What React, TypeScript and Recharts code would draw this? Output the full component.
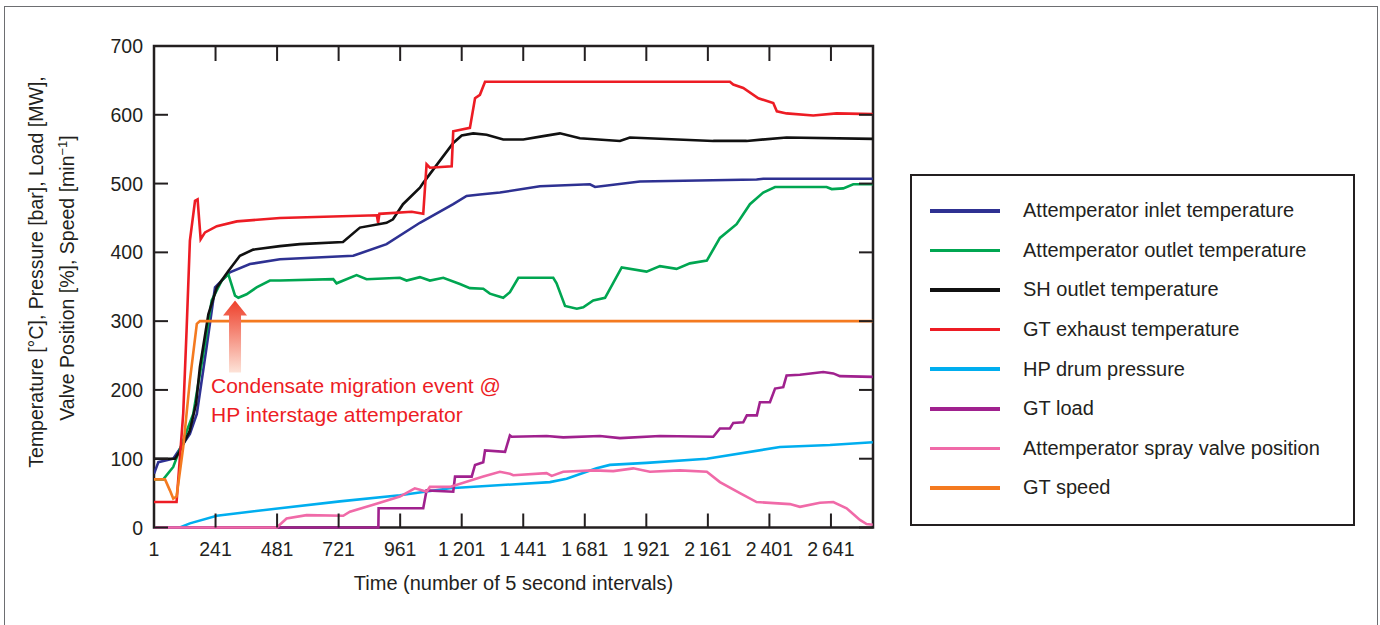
import React from "react"
import {
  LineChart,
  Line,
  XAxis,
  YAxis,
  Label,
  ReferenceArea,
  ReferenceDot,
} from "recharts"

// time index (5 s intervals) vs value, one list per signal
const attempInletTemp: [number, number][] = [
  [1, 78], [18, 95], [76, 100], [141, 136], [168, 165], [206, 262], [239, 349],
  [297, 371], [375, 383], [492, 390], [778, 395], [908, 412], [1038, 443],
  [1168, 470], [1220, 482], [1272, 484], [1350, 487], [1506, 496], [1701, 499],
  [1721, 495], [1896, 503], [2351, 506], [2377, 507], [2804, 507],
]

const attempOutletTemp: [number, number][] = [
  [1, 70], [37, 70], [76, 88], [115, 127], [154, 165], [193, 252], [226, 330],
  [265, 359], [291, 368], [317, 337], [330, 334], [362, 339], [401, 349],
  [453, 359], [492, 359], [700, 361], [713, 355], [791, 367], [830, 361],
  [960, 363], [986, 359], [1038, 364], [1077, 359], [1129, 363], [1194, 354],
  [1233, 348], [1285, 347], [1311, 340], [1337, 337], [1363, 334], [1389, 342],
  [1422, 363], [1558, 363], [1571, 355], [1604, 322], [1650, 318], [1675, 320],
  [1714, 330], [1760, 334], [1825, 378], [1922, 372], [1974, 380], [2039, 376],
  [2091, 384], [2157, 388], [2208, 421], [2273, 441], [2325, 470], [2377, 487],
  [2423, 495], [2624, 495], [2644, 492], [2689, 493], [2728, 499], [2804, 499],
]

const shOutletTemp: [number, number][] = [
  [1, 100], [83, 100], [100, 110], [140, 140], [165, 180], [180, 233],
  [213, 310], [246, 349], [291, 373], [336, 395], [388, 404], [492, 409],
  [570, 412], [738, 415], [804, 436], [908, 443], [933, 448], [972, 470],
  [1038, 494], [1051, 501], [1168, 559], [1201, 570], [1246, 573], [1298, 571],
  [1363, 564], [1441, 564], [1519, 569], [1584, 573], [1662, 566], [1818, 562],
  [1857, 567], [2182, 562], [2312, 562], [2468, 567], [2804, 565],
]

const gtExhaustTemp: [number, number][] = [
  [1, 37], [89, 37], [115, 166], [128, 286], [141, 417], [161, 475], [171, 477],
  [183, 419], [200, 429], [246, 438], [324, 445], [492, 450], [870, 454],
  [875, 443], [880, 456], [1006, 459], [1051, 456], [1064, 528], [1077, 523],
  [1162, 525], [1168, 576], [1233, 581], [1253, 624], [1272, 629], [1292, 648],
  [2247, 648], [2260, 644], [2299, 639], [2358, 624], [2416, 617], [2430, 605],
  [2468, 602], [2572, 599], [2663, 602], [2804, 601],
]

const hpDrumPressure: [number, number][] = [
  [1, 0], [102, 0], [141, 6], [246, 17], [375, 23], [492, 28], [726, 38],
  [960, 47], [1155, 57], [1545, 66], [1610, 71], [1727, 86], [1779, 91],
  [1922, 94], [2157, 100], [2442, 117], [2637, 120], [2804, 124],
]

const gtLoad: [number, number][] = [
  [1, 0], [876, 0], [877, 28], [1051, 28], [1064, 54], [1168, 52], [1175, 74],
  [1240, 74], [1253, 91], [1285, 95], [1292, 112], [1370, 110], [1389, 134],
  [1396, 132], [1532, 133], [1597, 131], [1740, 133], [1818, 130], [1974, 133],
  [2182, 132], [2208, 144], [2247, 144], [2260, 152], [2299, 153], [2313, 163],
  [2352, 163], [2364, 182], [2403, 182], [2423, 202], [2455, 204], [2468, 221],
  [2520, 222], [2611, 226], [2650, 224], [2676, 220], [2804, 219],
]

const sprayValvePos: [number, number][] = [
  [1, 0], [480, 0], [518, 13], [596, 18], [739, 17], [765, 23], [856, 33],
  [960, 45], [1018, 57], [1038, 55], [1064, 52], [1077, 59], [1155, 59],
  [1285, 74], [1350, 81], [1389, 78], [1402, 76], [1532, 79], [1552, 75],
  [1597, 81], [1714, 83], [1792, 82], [1870, 86], [1935, 81], [2052, 83],
  [2157, 81], [2208, 66], [2286, 50], [2351, 37], [2481, 34], [2520, 30],
  [2598, 36], [2650, 37], [2702, 28], [2754, 11], [2780, 5], [2804, 4],
]

const gtSpeed: [number, number][] = [
  [1, 70], [44, 70], [63, 54], [76, 42], [89, 45], [115, 117], [141, 214],
  [168, 296], [180, 300], [2804, 300],
]

const xTicks = [1, 241, 481, 721, 961, 1201, 1441, 1681, 1921, 2161, 2401, 2641]
const yTicks = [0, 100, 200, 300, 400, 500, 600, 700]

const series = [
  { name: "Attemperator inlet temperature", color: "#2e3192", data: attempInletTemp },
  { name: "Attemperator outlet temperature", color: "#00a651", data: attempOutletTemp },
  { name: "SH outlet temperature", color: "#111111", data: shOutletTemp },
  { name: "GT exhaust temperature", color: "#ed1c24", data: gtExhaustTemp },
  { name: "HP drum pressure", color: "#00aeef", data: hpDrumPressure },
  { name: "GT load", color: "#a0218e", data: gtLoad },
  { name: "Attemperator spray valve position", color: "#f06aa8", data: sprayValvePos },
  { name: "GT speed", color: "#f47a20", data: gtSpeed },
]

const W = 1380
const H = 625
const PLOT = { left: 154, right: 873, top: 46, bottom: 527.5 }
const AXIS = "#231f20"
const FONT = '"Liberation Sans", Arial, Helvetica, sans-serif'
const Y_AXIS_W = 60
const X_AXIS_H = 60

const toPoints = (pairs: [number, number][]) => pairs.map(([t, v]) => ({ t, v }))

const fmtThousands = (n: number) =>
  String(n).replace(/\B(?=(\d{3})+(?!\d))/g, "\u2009")

function XTick({ x, payload }: any) {
  return (
    <g>
      <line x1={x} x2={x} y1={PLOT.bottom} y2={PLOT.bottom - 14} stroke={AXIS} strokeWidth={2} />
      <line x1={x} x2={x} y1={PLOT.top} y2={PLOT.top + 15} stroke={AXIS} strokeWidth={2} />
      <text x={x} y={PLOT.bottom + 28} textAnchor="middle" fontSize={19.5} fill={AXIS} fontFamily={FONT}>
        {fmtThousands(payload.value)}
      </text>
    </g>
  )
}

function YTick({ y, payload }: any) {
  return (
    <g>
      <line x1={PLOT.left} x2={PLOT.left + 14} y1={y} y2={y} stroke={AXIS} strokeWidth={2} />
      <line x1={PLOT.right} x2={PLOT.right - 14} y1={y} y2={y} stroke={AXIS} strokeWidth={2} />
      <text x={PLOT.left - 11} y={y + 7} textAnchor="end" fontSize={19.5} fill={AXIS} fontFamily={FONT}>
        {payload.value}
      </text>
    </g>
  )
}

function YTitle() {
  const cy = 272
  return (
    <g fontFamily={FONT} fontSize={19.5} fill={AXIS}>
      <text x={43} y={cy} textAnchor="middle" transform={`rotate(-90 43 ${cy})`}>
        Temperature [°C], Pressure [bar], Load [MW],
      </text>
      <text x={74} y={cy + 6} textAnchor="middle" transform={`rotate(-90 74 ${cy + 6})`}>
        Valve Position [%], Speed [min
        <tspan dy={-7} fontSize={13}>−1</tspan>
        <tspan dy={7}>]</tspan>
      </text>
    </g>
  )
}

function XTitle() {
  return (
    <text
      x={(PLOT.left + PLOT.right) / 2}
      y={590}
      textAnchor="middle"
      fontSize={20}
      fill={AXIS}
      fontFamily={FONT}
    >
      Time (number of 5 second intervals)
    </text>
  )
}

// upward arrow pointing at the outlet temperature dip, with its caption
function EventMarker({ cx, cy }: any) {
  if (cx == null || cy == null) return null
  const path = `M ${cx} ${cy} L ${cx + 12} ${cy + 15} L ${cx + 6} ${cy + 15} L ${cx + 6} ${cy + 72}
    L ${cx - 6} ${cy + 72} L ${cx - 6} ${cy + 15} L ${cx - 12} ${cy + 15} Z`
  return (
    <g>
      <defs>
        <linearGradient id="arrowFade" x1="0" y1="0" x2="0" y2="1">
          <stop offset="0%" stopColor="#ee3f2a" />
          <stop offset="100%" stopColor="#fde3d8" />
        </linearGradient>
      </defs>
      <path d={path} fill="url(#arrowFade)" />
      <g fill="#ed1c24" fontSize={21} fontFamily={FONT}>
        <text x={cx - 24} y={cy + 92}>Condensate migration event @</text>
        <text x={cx - 24} y={cy + 121}>HP interstage attemperator</text>
      </g>
    </g>
  )
}

function LegendBox() {
  return (
    <div
      style={{
        position: "absolute",
        left: 910,
        top: 174,
        width: 445,
        height: 352,
        boxSizing: "border-box",
        border: `2.5px solid ${AXIS}`,
        background: "#fff",
        paddingTop: 15,
        fontFamily: FONT,
      }}
    >
      {series.map((s) => (
        <div key={s.name} style={{ display: "flex", alignItems: "center", height: 39.6 }}>
          <div style={{ width: 70, height: 3.5, marginLeft: 18, background: s.color }} />
          <span style={{ marginLeft: 23, fontSize: 20, color: AXIS, whiteSpace: "nowrap" }}>
            {s.name}
          </span>
        </div>
      ))}
    </div>
  )
}

export default function App() {
  return (
    <div
      style={{
        position: "absolute",
        left: 0,
        top: 0,
        width: W,
        height: H,
        overflow: "hidden",
        background: "#fff",
      }}
    >
      <div
        style={{
          position: "absolute",
          left: 4,
          top: 6,
          width: 1372,
          height: 700,
          borderLeft: "1.5px solid #6d6e71",
          borderTop: "1.5px solid #6d6e71",
          borderRight: "1.5px solid #6d6e71",
        }}
      />
      <LineChart
        width={W}
        height={H}
        margin={{
          top: PLOT.top,
          right: W - PLOT.right,
          bottom: H - PLOT.bottom - X_AXIS_H,
          left: PLOT.left - Y_AXIS_W,
        }}
        style={{ position: "absolute", left: 0, top: 0 }}
      >
        <XAxis
          dataKey="t"
          type="number"
          domain={[1, 2805]}
          ticks={xTicks}
          allowDataOverflow
          height={X_AXIS_H}
          axisLine={false}
          tickLine={false}
          tickSize={0}
          tick={<XTick />}
          interval={0}
        >
          <Label content={<XTitle />} />
        </XAxis>
        <YAxis
          type="number"
          domain={[0, 700]}
          ticks={yTicks}
          width={Y_AXIS_W}
          axisLine={false}
          tickLine={false}
          tickSize={0}
          tick={<YTick />}
          interval={0}
        >
          <Label content={<YTitle />} />
        </YAxis>
        {series.map((s) => (
          <Line
            key={s.name}
            data={toPoints(s.data)}
            dataKey="v"
            name={s.name}
            type="linear"
            stroke={s.color}
            strokeWidth={2.6}
            dot={false}
            activeDot={false}
            isAnimationActive={false}
          />
        ))}
        <ReferenceArea
          x1={1}
          x2={2805}
          y1={0}
          y2={700}
          fill="none"
          stroke={AXIS}
          strokeWidth={2.5}
          ifOverflow="visible"
        />
        <ReferenceDot x={317} y={330} r={0} ifOverflow="visible" shape={<EventMarker />} />
      </LineChart>
      <LegendBox />
    </div>
  )
}
